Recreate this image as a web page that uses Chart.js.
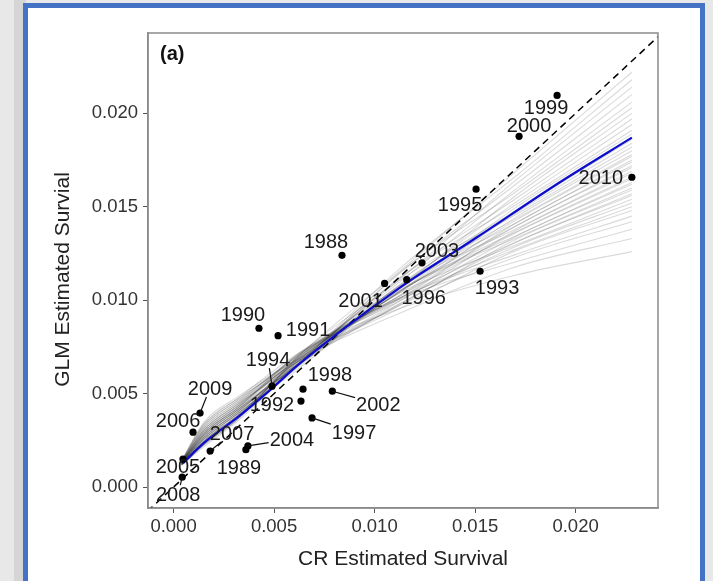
<!DOCTYPE html>
<html>
<head>
<meta charset="utf-8">
<script src="https://cdn.jsdelivr.net/npm/chart.js@4.4.1/dist/chart.umd.min.js"></script>
<style>
  html, body { margin: 0; padding: 0; }
  body { width: 713px; height: 581px; overflow: hidden; position: relative; background: #e8e8e8; }
  #shade { position: absolute; left: 14px; top: 0; width: 12px; height: 581px; background: #d5d5d5; }
  #frame { position: absolute; left: 23px; top: 3px; width: 672px; height: 600px; border: 5px solid #4472c4; background: #fff; }
  canvas { position: absolute; left: 0; top: 0; }
</style>
</head>
<body>
<div id="shade"></div>
<div id="frame"></div>
<canvas id="myChart" width="713" height="581"></canvas>
<script>
// yearly estimates: CR (x) vs GLM (y)
const years   = [1988, 1989, 1990, 1991, 1992, 1993, 1994, 1995, 1996, 1997, 1998, 1999,
                 2000, 2001, 2002, 2003, 2004, 2005, 2006, 2007, 2008, 2009, 2010];
const crSurv  = [0.00838, 0.0036, 0.00425, 0.0052, 0.00634, 0.01525, 0.0049, 0.01505, 0.0116, 0.00689, 0.00644, 0.01908,
                 0.01719, 0.0105, 0.0079, 0.01236, 0.0037, 0.00047, 0.00097, 0.00182, 0.00043, 0.00132, 0.0228];
const glmSurv = [0.0124, 0.0020, 0.0085, 0.0081, 0.0046, 0.01155, 0.0054, 0.01594, 0.0111, 0.0037, 0.00524, 0.02096,
                 0.01877, 0.0109, 0.00513, 0.0120, 0.0022, 0.0015, 0.00294, 0.00193, 0.00053, 0.00396, 0.01658];

// fitted relationship (blue)
const fitX = [0.00047, 0.0015, 0.0032, 0.0048, 0.0063, 0.0113, 0.015, 0.0192, 0.0228];
const fitY = [0.00128, 0.00235, 0.00374, 0.00519, 0.00663, 0.0107, 0.0133, 0.0163, 0.0187];

// bootstrap fits (grey)
const bootX = [0.0004, 0.0015, 0.0032, 0.0063, 0.0113, 0.017, 0.0228];
const bootY = [
  [0.00140, 0.00335, 0.00474, 0.00722, 0.00957, 0.01134, 0.0126],
  [0.00142, 0.00345, 0.00484, 0.00688, 0.00933, 0.01178, 0.0133],
  [0.00138, 0.00325, 0.00464, 0.00705, 0.01008, 0.01204, 0.0138],
  [0.00140, 0.00335, 0.00474, 0.00678, 0.00975, 0.01230, 0.0142],
  [0.00136, 0.00315, 0.00454, 0.00713, 0.01014, 0.01244, 0.0145],
  [0.00138, 0.00325, 0.00464, 0.00695, 0.00958, 0.01264, 0.0148],
  [0.00134, 0.00305, 0.00444, 0.00719, 0.01014, 0.01272, 0.0150],
  [0.00136, 0.00315, 0.00454, 0.00680, 0.00985, 0.01286, 0.0152],
  [0.00132, 0.00295, 0.00434, 0.00694, 0.01041, 0.01294, 0.0154],
  [0.00134, 0.00305, 0.00444, 0.00665, 0.00982, 0.01308, 0.0156],
  [0.00130, 0.00285, 0.00424, 0.00698, 0.01015, 0.01310, 0.0157],
  [0.00132, 0.00295, 0.00434, 0.00689, 0.00976, 0.01324, 0.0159],
  [0.00134, 0.00305, 0.00444, 0.00679, 0.01054, 0.01332, 0.0160],
  [0.00130, 0.00285, 0.00424, 0.00713, 0.01000, 0.01340, 0.0162],
  [0.00128, 0.00275, 0.00414, 0.00665, 0.01058, 0.01344, 0.0163],
  [0.00132, 0.00295, 0.00434, 0.00715, 0.01024, 0.01360, 0.0165],
  [0.00130, 0.00285, 0.00424, 0.00657, 0.01052, 0.01364, 0.0166],
  [0.00126, 0.00265, 0.00404, 0.00681, 0.00998, 0.01372, 0.0168],
  [0.00128, 0.00275, 0.00414, 0.00661, 0.01076, 0.01380, 0.0169],
  [0.00130, 0.00285, 0.00424, 0.00722, 0.01027, 0.01394, 0.0171],
  [0.00126, 0.00265, 0.00404, 0.00665, 0.01050, 0.01396, 0.0172],
  [0.00128, 0.00275, 0.00414, 0.00706, 0.01011, 0.01410, 0.0174],
  [0.00124, 0.00255, 0.00394, 0.00639, 0.01074, 0.01412, 0.0175],
  [0.00126, 0.00265, 0.00404, 0.00690, 0.01045, 0.01426, 0.0177],
  [0.00128, 0.00275, 0.00414, 0.00670, 0.01083, 0.01434, 0.0178],
  [0.00124, 0.00255, 0.00394, 0.00704, 0.01029, 0.01442, 0.0180],
  [0.00126, 0.00265, 0.00404, 0.00675, 0.01110, 0.01456, 0.0182],
  [0.00122, 0.00245, 0.00384, 0.00689, 0.01046, 0.01464, 0.0184],
  [0.00124, 0.00255, 0.00394, 0.00650, 0.01087, 0.01478, 0.0186],
  [0.00122, 0.00245, 0.00384, 0.00684, 0.01051, 0.01494, 0.0189],
  [0.00124, 0.00255, 0.00394, 0.00665, 0.01122, 0.01508, 0.0191],
  [0.00120, 0.00235, 0.00374, 0.00700, 0.01081, 0.01522, 0.0194],
  [0.00122, 0.00245, 0.00384, 0.00672, 0.01125, 0.01542, 0.0197],
  [0.00120, 0.00235, 0.00374, 0.00696, 0.01069, 0.01558, 0.0200],
  [0.00122, 0.00245, 0.00384, 0.00658, 0.01153, 0.01578, 0.0203],
  [0.00118, 0.00225, 0.00364, 0.00683, 0.01102, 0.01592, 0.0206],
  [0.00120, 0.00235, 0.00374, 0.00666, 0.01149, 0.01618, 0.0210],
  [0.00118, 0.00225, 0.00364, 0.00711, 0.01116, 0.01640, 0.0214],
  [0.00116, 0.00215, 0.00354, 0.00666, 0.01173, 0.01662, 0.0218],
  [0.00118, 0.00225, 0.00364, 0.00709, 0.01160, 0.01688, 0.0222]
];

// 1:1 reference line ends
const oneToOne = [-0.0013, 0.0243];

const xTicks = [0, 0.005, 0.010, 0.015, 0.020];
const xTickLabels = ['0.000', '0.005', '0.010', '0.015', '0.020'];
const yTicks = [0, 0.005, 0.010, 0.015, 0.020];
const yTickLabels = ['0.000', '0.005', '0.010', '0.015', '0.020'];

// label placement, px offset from the point (dx, dy, draw leader)
const labelPos = {
  1988: [-16, -14], 1989: [-7, 17], 1990: [-16, -14], 1991: [30, -7], 1992: [-29, 3],
  1993: [17, 16], 1994: [-4, -27, true], 1995: [-16, 15], 1996: [17, 17], 1997: [42, 14, true],
  1998: [27, -15], 1999: [-11, 12], 2000: [10, -11], 2001: [-24, 17], 2002: [46, 13, true],
  2003: [15, -13], 2004: [44, -7, true], 2005: [-5, 7], 2006: [-15, -12], 2007: [22, -18, true],
  2008: [-4, 17, true], 2009: [10, -25, true], 2010: [-31, 0]
};

const FONT = '"Liberation Sans", Arial, sans-serif';

const labelPlugin = {
  id: 'yearLabels',
  afterDatasetsDraw(chart) {
    const { ctx, chartArea: a, scales: { x, y } } = chart;
    ctx.save();
    ctx.strokeStyle = '#8a8a8a';
    ctx.lineWidth = 1.5;
    ctx.strokeRect(a.left, a.top, a.right - a.left, a.bottom - a.top);

    ctx.font = '20px ' + FONT;
    ctx.textAlign = 'center';
    ctx.fillStyle = '#1a1a1a';
    ctx.strokeStyle = '#111';
    ctx.lineWidth = 1.2;
    years.forEach((yr, i) => {
      const px = x.getPixelForValue(crSurv[i]);
      const py = y.getPixelForValue(glmSurv[i]);
      const [dx, dy, lead] = labelPos[yr];
      const cx = px + dx, cy = py + dy;
      if (lead) {
        const hw = ctx.measureText(String(yr)).width / 2 + 1;
        const t = Math.min(dx ? hw / Math.abs(dx) : 1, dy ? 9 / Math.abs(dy) : 1);
        ctx.beginPath();
        ctx.moveTo(px, py);
        ctx.lineTo(cx - dx * t, cy - dy * t);
        ctx.stroke();
      }
      ctx.fillText(String(yr), cx, cy + 7);
    });

    ctx.font = 'bold 20px ' + FONT;
    ctx.textAlign = 'left';
    ctx.fillStyle = '#111';
    ctx.fillText('(a)', a.left + 12, a.top + 27);

    ctx.font = '21px ' + FONT;
    ctx.fillStyle = '#222';
    ctx.textAlign = 'center';
    ctx.fillText('CR Estimated Survival', (a.left + a.right) / 2, a.bottom + 57);
    ctx.translate(a.left - 79, (a.top + a.bottom) / 2 + 9);
    ctx.rotate(-Math.PI / 2);
    ctx.fillText('GLM Estimated Survial', 0, 0);
    ctx.restore();
  }
};

const datasets = [];
datasets.push({
  data: years.map((yr, i) => ({ x: crSurv[i], y: glmSurv[i] })),
  backgroundColor: '#000', borderWidth: 0, pointRadius: 3.6, order: 0
});
datasets.push({
  data: fitX.map((v, i) => ({ x: v, y: fitY[i] })),
  showLine: true, borderColor: '#0d0dcc', borderWidth: 2.3, pointRadius: 0,
  cubicInterpolationMode: 'monotone', order: 1
});
datasets.push({
  data: oneToOne.map(v => ({ x: v, y: v })),
  showLine: true, borderColor: '#000', borderWidth: 1.5, borderDash: [7, 5], pointRadius: 0, order: 2
});
bootY.forEach(run => {
  datasets.push({
    data: bootX.map((v, i) => ({ x: v, y: run[i] })),
    showLine: true, borderColor: 'rgba(0,0,0,0.15)', borderWidth: 1.1, pointRadius: 0,
    cubicInterpolationMode: 'monotone', order: 3
  });
});

const ctx = document.getElementById('myChart');

new Chart(ctx, {
  type: 'scatter',
  data: { datasets: datasets },
  options: {
    responsive: false,
    animation: false,
    events: [],
    layout: { padding: { left: 28, top: 33, right: 55, bottom: 0 } },
    plugins: { legend: { display: false }, tooltip: { enabled: false } },
    scales: {
      x: {
        type: 'linear', min: -0.00127, max: 0.0241,
        afterBuildTicks: s => { s.ticks = xTicks.map(v => ({ value: v })); },
        afterFit: s => { s.height = 73; },
        ticks: { callback: (v, i) => xTickLabels[i], font: { size: 18.5, family: FONT }, color: '#333', padding: 3, maxRotation: 0 },
        grid: { drawOnChartArea: false, drawTicks: true, tickLength: 5, color: '#555' },
        border: { display: true, color: '#8a8a8a', width: 1.5 }
      },
      y: {
        type: 'linear', min: -0.00112, max: 0.0243,
        afterBuildTicks: s => { s.ticks = yTicks.map(v => ({ value: v })); },
        afterFit: s => { s.width = 120; },
        ticks: { callback: (v, i) => yTickLabels[i], font: { size: 18.5, family: FONT }, color: '#333', padding: 5 },
        grid: { drawOnChartArea: false, drawTicks: true, tickLength: 5, color: '#555' },
        border: { display: true, color: '#8a8a8a', width: 1.5 }
      }
    }
  },
  plugins: [labelPlugin]
});
</script>
</body>
</html>
